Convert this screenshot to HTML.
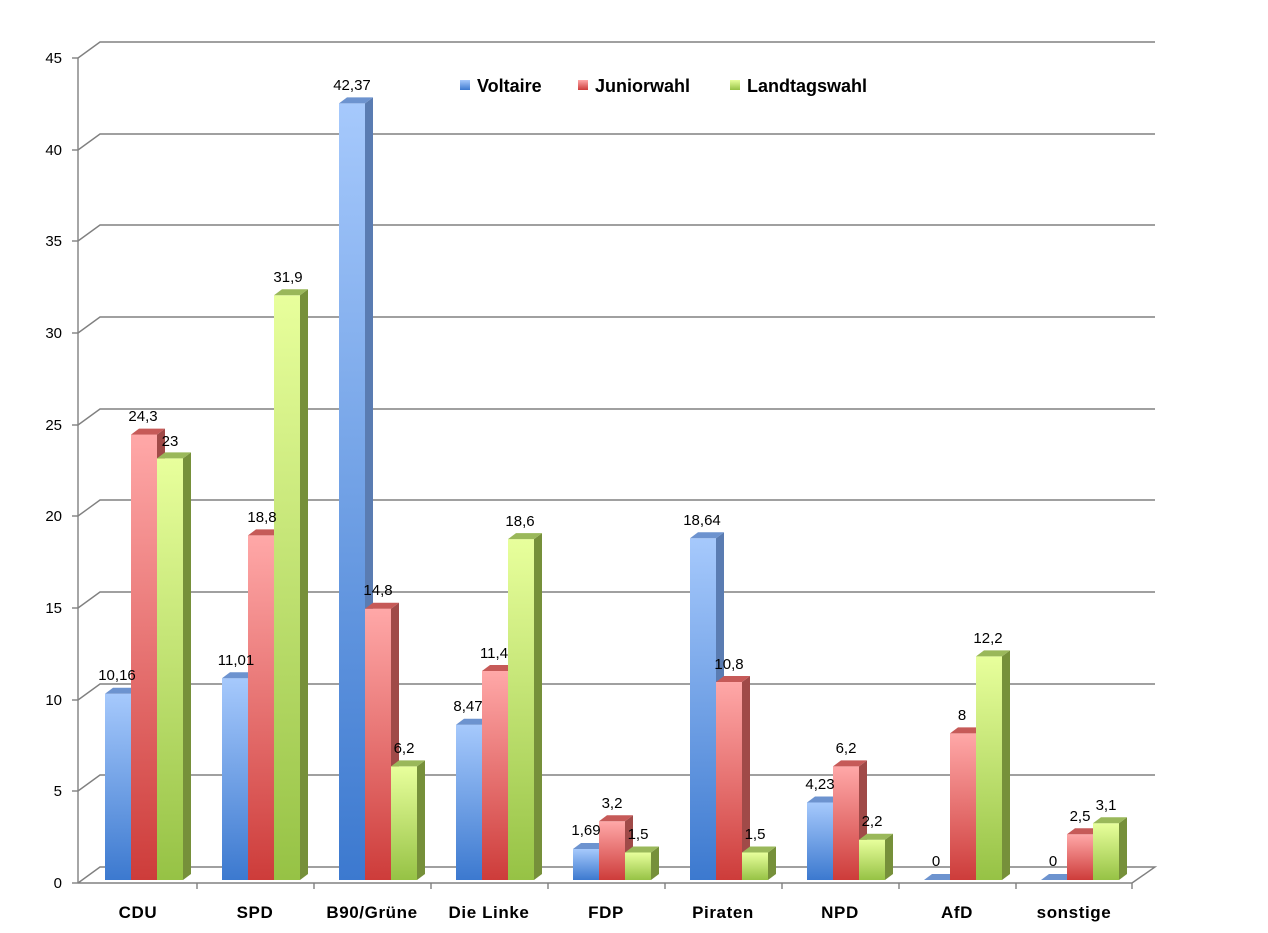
<!DOCTYPE html>
<html><head><meta charset="utf-8"><style>
body{margin:0;background:#fff}
svg{display:block;font-family:"Liberation Sans",sans-serif}
.v{font-size:15px;text-anchor:middle;fill:#000}
.y{font-size:15px;text-anchor:end;fill:#000}
.c{font-size:17px;font-weight:bold;text-anchor:middle;fill:#000;letter-spacing:0.6px}
.l{font-size:18px;font-weight:bold;fill:#000}
</style></head><body>
<svg width="1268" height="933" viewBox="0 0 1268 933">
<defs>
<linearGradient id="gb" x1="0" y1="0" x2="0" y2="1"><stop offset="0" stop-color="#a6c9fc"/><stop offset="1" stop-color="#3c79cf"/></linearGradient>
<linearGradient id="gr" x1="0" y1="0" x2="0" y2="1"><stop offset="0" stop-color="#ffa8a8"/><stop offset="1" stop-color="#cd3c3a"/></linearGradient>
<linearGradient id="gg" x1="0" y1="0" x2="0" y2="1"><stop offset="0" stop-color="#e8ff9c"/><stop offset="1" stop-color="#96c245"/></linearGradient>
</defs>
<g stroke="#808080" stroke-width="1.4" fill="none">
<polyline points="78,58 100,42 1155,42"/>
<polyline points="78,150 100,134 1155,134"/>
<polyline points="78,241 100,225 1155,225"/>
<polyline points="78,333 100,317 1155,317"/>
<polyline points="78,425 100,409 1155,409"/>
<polyline points="78,516 100,500 1155,500"/>
<polyline points="78,608 100,592 1155,592"/>
<polyline points="78,700 100,684 1155,684"/>
<polyline points="78,791 100,775 1155,775"/>
<polyline points="78,883 100,867 1155,867 1132,883 78,883"/>
<line x1="78" y1="58" x2="78" y2="883"/>
<line x1="72" y1="58" x2="78" y2="58"/><line x1="72" y1="150" x2="78" y2="150"/><line x1="72" y1="241" x2="78" y2="241"/><line x1="72" y1="333" x2="78" y2="333"/><line x1="72" y1="425" x2="78" y2="425"/><line x1="72" y1="516" x2="78" y2="516"/><line x1="72" y1="608" x2="78" y2="608"/><line x1="72" y1="700" x2="78" y2="700"/><line x1="72" y1="791" x2="78" y2="791"/><line x1="72" y1="883" x2="78" y2="883"/>
<line x1="197" y1="883" x2="197" y2="889"/><line x1="314" y1="883" x2="314" y2="889"/><line x1="431" y1="883" x2="431" y2="889"/><line x1="548" y1="883" x2="548" y2="889"/><line x1="665" y1="883" x2="665" y2="889"/><line x1="782" y1="883" x2="782" y2="889"/><line x1="899" y1="883" x2="899" y2="889"/><line x1="1016" y1="883" x2="1016" y2="889"/><line x1="1132" y1="883" x2="1132" y2="889"/>
</g>
<text class="y" x="62" y="63">45</text><text class="y" x="62" y="155">40</text><text class="y" x="62" y="246">35</text><text class="y" x="62" y="338">30</text><text class="y" x="62" y="430">25</text><text class="y" x="62" y="521">20</text><text class="y" x="62" y="613">15</text><text class="y" x="62" y="705">10</text><text class="y" x="62" y="796">5</text><text class="y" x="62" y="888">0</text>
<g id="bars">
<g transform="translate(105,693.8)"><rect width="26" height="186.2" fill="url(#gb)"/><polygon points="26,0 34,-6 34,180.2 26,186.2" fill="#5a7cb2"/><polygon points="0,0 8,-6 34,-6 26,0" fill="#6d93cf"/></g>
<g transform="translate(131,434.6)"><rect width="26" height="445.4" fill="url(#gr)"/><polygon points="26,0 34,-6 34,439.4 26,445.4" fill="#a04a48"/><polygon points="0,0 8,-6 34,-6 26,0" fill="#c65a58"/></g>
<g transform="translate(157,458.4)"><rect width="26" height="421.6" fill="url(#gg)"/><polygon points="26,0 34,-6 34,415.6 26,421.6" fill="#76903a"/><polygon points="0,0 8,-6 34,-6 26,0" fill="#9ab85a"/></g>
<g transform="translate(222,678.2)"><rect width="26" height="201.8" fill="url(#gb)"/><polygon points="26,0 34,-6 34,195.8 26,201.8" fill="#5a7cb2"/><polygon points="0,0 8,-6 34,-6 26,0" fill="#6d93cf"/></g>
<g transform="translate(248,535.4)"><rect width="26" height="344.6" fill="url(#gr)"/><polygon points="26,0 34,-6 34,338.6 26,344.6" fill="#a04a48"/><polygon points="0,0 8,-6 34,-6 26,0" fill="#c65a58"/></g>
<g transform="translate(274,295.3)"><rect width="26" height="584.7" fill="url(#gg)"/><polygon points="26,0 34,-6 34,578.7 26,584.7" fill="#76903a"/><polygon points="0,0 8,-6 34,-6 26,0" fill="#9ab85a"/></g>
<g transform="translate(339,103.4)"><rect width="26" height="776.6" fill="url(#gb)"/><polygon points="26,0 34,-6 34,770.6 26,776.6" fill="#5a7cb2"/><polygon points="0,0 8,-6 34,-6 26,0" fill="#6d93cf"/></g>
<g transform="translate(365,608.7)"><rect width="26" height="271.3" fill="url(#gr)"/><polygon points="26,0 34,-6 34,265.3 26,271.3" fill="#a04a48"/><polygon points="0,0 8,-6 34,-6 26,0" fill="#c65a58"/></g>
<g transform="translate(391,766.4)"><rect width="26" height="113.6" fill="url(#gg)"/><polygon points="26,0 34,-6 34,107.6 26,113.6" fill="#76903a"/><polygon points="0,0 8,-6 34,-6 26,0" fill="#9ab85a"/></g>
<g transform="translate(456,724.7)"><rect width="26" height="155.3" fill="url(#gb)"/><polygon points="26,0 34,-6 34,149.3 26,155.3" fill="#5a7cb2"/><polygon points="0,0 8,-6 34,-6 26,0" fill="#6d93cf"/></g>
<g transform="translate(482,671)"><rect width="26" height="209" fill="url(#gr)"/><polygon points="26,0 34,-6 34,203 26,209" fill="#a04a48"/><polygon points="0,0 8,-6 34,-6 26,0" fill="#c65a58"/></g>
<g transform="translate(508,539.1)"><rect width="26" height="340.9" fill="url(#gg)"/><polygon points="26,0 34,-6 34,334.9 26,340.9" fill="#76903a"/><polygon points="0,0 8,-6 34,-6 26,0" fill="#9ab85a"/></g>
<g transform="translate(573,849)"><rect width="26" height="31" fill="url(#gb)"/><polygon points="26,0 34,-6 34,25 26,31" fill="#5a7cb2"/><polygon points="0,0 8,-6 34,-6 26,0" fill="#6d93cf"/></g>
<g transform="translate(599,821.3)"><rect width="26" height="58.7" fill="url(#gr)"/><polygon points="26,0 34,-6 34,52.7 26,58.7" fill="#a04a48"/><polygon points="0,0 8,-6 34,-6 26,0" fill="#c65a58"/></g>
<g transform="translate(625,852.5)"><rect width="26" height="27.5" fill="url(#gg)"/><polygon points="26,0 34,-6 34,21.5 26,27.5" fill="#76903a"/><polygon points="0,0 8,-6 34,-6 26,0" fill="#9ab85a"/></g>
<g transform="translate(690,538.3)"><rect width="26" height="341.7" fill="url(#gb)"/><polygon points="26,0 34,-6 34,335.7 26,341.7" fill="#5a7cb2"/><polygon points="0,0 8,-6 34,-6 26,0" fill="#6d93cf"/></g>
<g transform="translate(716,682)"><rect width="26" height="198" fill="url(#gr)"/><polygon points="26,0 34,-6 34,192 26,198" fill="#a04a48"/><polygon points="0,0 8,-6 34,-6 26,0" fill="#c65a58"/></g>
<g transform="translate(742,852.5)"><rect width="26" height="27.5" fill="url(#gg)"/><polygon points="26,0 34,-6 34,21.5 26,27.5" fill="#76903a"/><polygon points="0,0 8,-6 34,-6 26,0" fill="#9ab85a"/></g>
<g transform="translate(807,802.5)"><rect width="26" height="77.5" fill="url(#gb)"/><polygon points="26,0 34,-6 34,71.5 26,77.5" fill="#5a7cb2"/><polygon points="0,0 8,-6 34,-6 26,0" fill="#6d93cf"/></g>
<g transform="translate(833,766.4)"><rect width="26" height="113.6" fill="url(#gr)"/><polygon points="26,0 34,-6 34,107.6 26,113.6" fill="#a04a48"/><polygon points="0,0 8,-6 34,-6 26,0" fill="#c65a58"/></g>
<g transform="translate(859,839.7)"><rect width="26" height="40.3" fill="url(#gg)"/><polygon points="26,0 34,-6 34,34.3 26,40.3" fill="#76903a"/><polygon points="0,0 8,-6 34,-6 26,0" fill="#9ab85a"/></g>
<g transform="translate(924,880)"><polygon points="0,0 8,-6 34,-6 26,0" fill="#6d93cf"/></g>
<g transform="translate(950,733.4)"><rect width="26" height="146.6" fill="url(#gr)"/><polygon points="26,0 34,-6 34,140.6 26,146.6" fill="#a04a48"/><polygon points="0,0 8,-6 34,-6 26,0" fill="#c65a58"/></g>
<g transform="translate(976,656.4)"><rect width="26" height="223.6" fill="url(#gg)"/><polygon points="26,0 34,-6 34,217.6 26,223.6" fill="#76903a"/><polygon points="0,0 8,-6 34,-6 26,0" fill="#9ab85a"/></g>
<g transform="translate(1041,880)"><polygon points="0,0 8,-6 34,-6 26,0" fill="#6d93cf"/></g>
<g transform="translate(1067,834.2)"><rect width="26" height="45.8" fill="url(#gr)"/><polygon points="26,0 34,-6 34,39.8 26,45.8" fill="#a04a48"/><polygon points="0,0 8,-6 34,-6 26,0" fill="#c65a58"/></g>
<g transform="translate(1093,823.2)"><rect width="26" height="56.8" fill="url(#gg)"/><polygon points="26,0 34,-6 34,50.8 26,56.8" fill="#76903a"/><polygon points="0,0 8,-6 34,-6 26,0" fill="#9ab85a"/></g>
</g>
<text class="v" x="117" y="680">10,16</text><text class="v" x="143" y="421">24,3</text><text class="v" x="170" y="446">23</text>
<text class="v" x="236" y="665">11,01</text><text class="v" x="262" y="522">18,8</text><text class="v" x="288" y="282">31,9</text>
<text class="v" x="352" y="90">42,37</text><text class="v" x="378" y="595">14,8</text><text class="v" x="404" y="753">6,2</text>
<text class="v" x="468" y="711">8,47</text><text class="v" x="494" y="658">11,4</text><text class="v" x="520" y="526">18,6</text>
<text class="v" x="586" y="835">1,69</text><text class="v" x="612" y="808">3,2</text><text class="v" x="638" y="839">1,5</text>
<text class="v" x="702" y="525">18,64</text><text class="v" x="729" y="669">10,8</text><text class="v" x="755" y="839">1,5</text>
<text class="v" x="820" y="789">4,23</text><text class="v" x="846" y="753">6,2</text><text class="v" x="872" y="826">2,2</text>
<text class="v" x="936" y="866">0</text><text class="v" x="962" y="720">8</text><text class="v" x="988" y="643">12,2</text>
<text class="v" x="1053" y="866">0</text><text class="v" x="1080" y="821">2,5</text><text class="v" x="1106" y="810">3,1</text>
<text class="c" x="138" y="918">CDU</text><text class="c" x="255" y="918">SPD</text><text class="c" x="372" y="918">B90/Grüne</text><text class="c" x="489" y="918">Die Linke</text><text class="c" x="606" y="918">FDP</text><text class="c" x="723" y="918">Piraten</text><text class="c" x="840" y="918">NPD</text><text class="c" x="957" y="918">AfD</text><text class="c" x="1074" y="918">sonstige</text>
<rect x="460" y="80" width="10" height="10" fill="url(#gb)"/><text class="l" x="477" y="92">Voltaire</text>
<rect x="578" y="80" width="10" height="10" fill="url(#gr)"/><text class="l" x="595" y="92">Juniorwahl</text>
<rect x="730" y="80" width="10" height="10" fill="url(#gg)"/><text class="l" x="747" y="92">Landtagswahl</text>
</svg>
</body></html>
